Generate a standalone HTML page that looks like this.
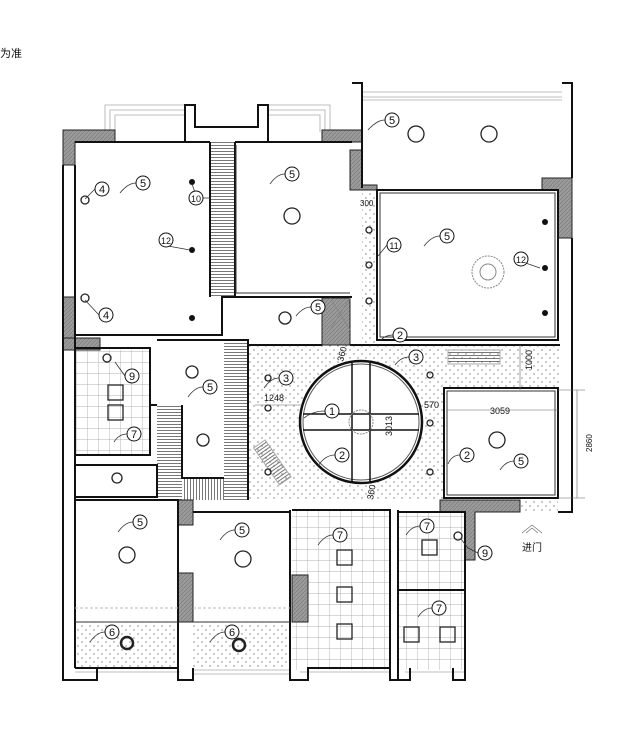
<!DOCTYPE html>
<html><head><meta charset="utf-8"><style>
html,body{margin:0;padding:0;background:#fff;width:641px;height:729px;overflow:hidden}
svg{display:block}
text{font-family:"Liberation Sans","Noto Sans CJK SC",sans-serif;fill:#111}
</style></head><body>
<svg width="641" height="729" viewBox="0 0 641 729" xmlns="http://www.w3.org/2000/svg">
<defs>
<pattern id="dots" width="8" height="8" patternUnits="userSpaceOnUse"><circle cx="2" cy="2" r="0.7" fill="#777"/><circle cx="6" cy="6" r="0.7" fill="#777"/></pattern>
<pattern id="grid" width="11" height="11" patternUnits="userSpaceOnUse"><path d="M11 0V11H0" fill="none" stroke="#999" stroke-width="0.7"/></pattern>
<pattern id="hatch" width="4" height="3" patternUnits="userSpaceOnUse"><path d="M0 1.5H4" stroke="#555" stroke-width="0.8"/></pattern>
<pattern id="vhatch" width="3" height="4" patternUnits="userSpaceOnUse"><path d="M1.5 0V4" stroke="#555" stroke-width="0.8"/></pattern>
<pattern id="wall" width="4" height="4" patternUnits="userSpaceOnUse"><rect width="4" height="4" fill="#9a9a9a"/><path d="M0 4L4 0" stroke="#777" stroke-width="0.6"/></pattern>
</defs>
<text x="0" y="57" font-size="11">为准</text>

<rect x="248" y="345" width="312" height="155" fill="url(#dots)"/>
<rect x="362" y="188" width="15" height="157" fill="url(#dots)"/>
<rect x="75" y="350" width="75" height="105" fill="url(#grid)"/>
<rect x="292" y="510" width="98" height="160" fill="url(#grid)"/>
<rect x="398" y="512" width="67" height="158" fill="url(#grid)"/>
<rect x="75" y="622" width="105" height="45" fill="url(#dots)"/>
<rect x="193" y="622" width="97" height="45" fill="url(#dots)"/>
<rect x="210" y="142" width="25" height="155" fill="url(#hatch)"/>
<rect x="224" y="342" width="24" height="158" fill="url(#hatch)"/>
<rect x="157" y="405" width="25" height="95" fill="url(#hatch)"/>
<rect x="182" y="478" width="42" height="22" fill="url(#vhatch)"/>
<rect x="520" y="500" width="38" height="12" fill="url(#dots)"/>

<g fill="none" stroke="#aaa" stroke-width="0.8">
<path d="M105 132V105H185M110 132V110H185M115 132V115H185"/>
<path d="M268 105H330V132M268 110H325V132M268 115H320V132"/>
<path d="M362 92H562M362 97H562M362 100H562"/>
<path d="M193 670H290M193 674H290M300 672H390M405 672H465M75 672H180"/>
</g>

<g fill="url(#wall)" stroke="#222" stroke-width="1">
<path d="M63 130H115V142H75V165H63Z"/>
<path d="M63 297H75V345H63Z"/>
<path d="M322 130H362V142H322Z"/>
<path d="M350 150H362V185H377V190H350Z"/>
<path d="M542 178H572V238H558V190H542Z"/>
<path d="M63 338H100V350H63Z"/>
<path d="M440 500H520V512H475V560H465V512H440Z"/>
<path d="M178 500H193V525H178Z"/>
<path d="M178 573H193V622H178Z"/>
<path d="M292 575H308V622H292Z"/>
<path d="M322 298H350V345H322Z"/>
</g>

<rect x="444" y="388" width="114" height="110" fill="#fff"/>
<g fill="none" stroke="#111" stroke-width="2">
<path d="M63 165V680H97V668"/>
<path d="M75 165V668"/>
<path d="M75 142H210M235 142H352"/>
<path d="M185 142V105H195V127H258V105H268V142"/>
<path d="M352 83H362V188M562 83H572V178"/>
<path d="M377 190H558V340H377Z"/>
<path d="M572 238V512H558"/>
<path d="M444 388H558V498H444Z"/>
<path d="M75 335H222V297H352"/>
<path d="M235 142V297M210 142V297"/>
<path d="M75 348H150V455H75"/>
<path d="M150 348V405H157M157 340H248V500"/>
<path d="M75 465H157V497H75"/>
<path d="M75 500H178V668H75"/>
<path d="M193 512H290V668"/>
<path d="M290 510V680H308V668H390V680H410V668"/>
<path d="M292 510H390V670M398 512H465V670"/>
<path d="M398 510V680H410M453 668V680H465V560"/>
<path d="M178 668V680H193V668"/>
<path d="M182 405V478H224"/>
<path d="M248 345H322M350 345H560"/>
<path d="M398 590H465"/>
</g>
<g fill="none" stroke="#333" stroke-width="1">
<path d="M380 193H555V337H380Z"/>
<path d="M447 391H555V495H447Z"/>
<path d="M236 145V293H350"/>
<path d="M330 298L350 330M350 298L330 330" stroke="#888"/>
<path d="M75 608H178M193 608H290" stroke="#bbb" stroke-dasharray="3 2"/>
<path d="M75 622H178M193 622H290"/>
</g>

<circle cx="361" cy="422" r="61" fill="#fff" stroke="#111" stroke-width="2.5"/>
<circle cx="361" cy="422" r="58" fill="none" stroke="#555" stroke-width="1"/>
<g stroke="#111" stroke-width="1.5">
<path d="M352 363V482M370 363V482M303 414H419M303 430H419"/>
</g>
<circle cx="361" cy="422" r="12" fill="none" stroke="#888" stroke-width="1" stroke-dasharray="2 1"/>
<circle cx="488" cy="272" r="16" fill="none" stroke="#888" stroke-width="1" stroke-dasharray="2 1"/>
<circle cx="488" cy="272" r="8" fill="none" stroke="#888"/>
<rect x="448" y="350" width="52" height="14" fill="url(#hatch)" stroke="#aaa"/>
<rect x="265" y="440" width="14" height="45" transform="rotate(-35 272 462)" fill="url(#hatch)" stroke="#aaa"/>

<g fill="none" stroke="#222" stroke-width="1.3">
<circle cx="292" cy="216" r="8"/><circle cx="416" cy="134" r="8"/><circle cx="489" cy="134" r="8"/>
<circle cx="285" cy="318" r="6"/><circle cx="192" cy="372" r="6"/><circle cx="203" cy="440" r="6"/>
<circle cx="117" cy="478" r="5"/><circle cx="127" cy="555" r="8"/><circle cx="243" cy="559" r="8"/>
<circle cx="497" cy="440" r="8"/><circle cx="85" cy="200" r="4"/><circle cx="85" cy="298" r="4"/>
<circle cx="369" cy="230" r="3"/><circle cx="369" cy="265" r="3"/><circle cx="369" cy="301" r="3"/>
<circle cx="268" cy="378" r="3"/><circle cx="268" cy="408" r="3"/><circle cx="268" cy="472" r="3"/>
<circle cx="430" cy="375" r="3"/><circle cx="430" cy="423" r="3"/><circle cx="430" cy="472" r="3"/>
<rect x="337" y="550" width="15" height="15"/><rect x="337" y="587" width="15" height="15"/><rect x="337" y="624" width="15" height="15"/>
<rect x="422" y="540" width="15" height="15"/><rect x="404" y="627" width="15" height="15"/><rect x="440" y="627" width="15" height="15"/>
<rect x="108" y="385" width="15" height="15"/><rect x="108" y="405" width="15" height="15"/>
<circle cx="127" cy="643" r="6" stroke-width="2.5"/><circle cx="239" cy="645" r="6" stroke-width="2.5"/>
<circle cx="458" cy="536" r="4"/><circle cx="107" cy="358" r="4"/>
</g>
<g fill="#111">
<circle cx="192" cy="182" r="3"/><circle cx="192" cy="250" r="3"/><circle cx="192" cy="318" r="3"/>
<circle cx="545" cy="222" r="3"/><circle cx="545" cy="268" r="3"/><circle cx="545" cy="313" r="3"/>
</g>

<g fill="none" stroke="#333" stroke-width="0.8">
<path d="M136 183Q128 183 120 193M285 174Q277 174 270 184M385 120Q377 120 368 130M440 236Q432 236 424 246M211 198H197L192 184M159 240L168 246L190 250M95 189L85 199M99 315L85 300"/>
<path d="M311 307Q303 307 296 316M387 245L378 256M514 259L540 268M393 335Q385 335 380 341M125 376L115 362M203 387Q195 387 188 397M127 434Q119 434 114 442"/>
<path d="M279 378Q271 378 264 388M409 357Q401 357 395 365M325 411Q313 411 304 418M335 455Q325 455 318 466M460 455Q452 455 448 464M514 461Q506 461 500 470"/>
<path d="M133 522Q125 522 118 532M235 530Q227 530 220 540M333 535Q325 535 318 545M420 526Q412 526 406 535M478 553L468 548L461 539M432 608Q424 608 418 617M105 632Q97 632 90 642M225 632Q217 632 210 642"/>
</g>

<g font-size="11" text-anchor="middle">
<g fill="#fff" stroke="#111" stroke-width="1">
<circle cx="102" cy="189" r="7"/><circle cx="143" cy="183" r="7"/><circle cx="196" cy="198" r="7"/>
<circle cx="166" cy="240" r="7"/><circle cx="106" cy="315" r="7"/><circle cx="292" cy="174" r="7"/>
<circle cx="392" cy="120" r="7"/><circle cx="447" cy="236" r="7"/><circle cx="394" cy="245" r="7"/>
<circle cx="521" cy="259" r="7"/><circle cx="400" cy="335" r="7"/><circle cx="318" cy="307" r="7"/>
<circle cx="132" cy="376" r="7"/><circle cx="210" cy="387" r="7"/><circle cx="134" cy="434" r="7"/>
<circle cx="286" cy="378" r="7"/><circle cx="416" cy="357" r="7"/><circle cx="332" cy="411" r="7"/>
<circle cx="342" cy="455" r="7"/><circle cx="467" cy="455" r="7"/><circle cx="521" cy="461" r="7"/>
<circle cx="140" cy="522" r="7"/><circle cx="242" cy="530" r="7"/><circle cx="340" cy="535" r="7"/>
<circle cx="427" cy="526" r="7"/><circle cx="485" cy="553" r="7"/><circle cx="439" cy="608" r="7"/>
<circle cx="112" cy="632" r="7"/><circle cx="232" cy="632" r="7"/>
</g>
<text x="102" y="193">4</text><text x="143" y="187">5</text><text x="196" y="202" font-size="9">10</text>
<text x="166" y="244" font-size="9">12</text><text x="106" y="319">4</text><text x="292" y="178">5</text>
<text x="392" y="124">5</text><text x="447" y="240">5</text><text x="394" y="249" font-size="9">11</text>
<text x="521" y="263" font-size="9">12</text><text x="400" y="339">2</text><text x="318" y="311">5</text>
<text x="132" y="380">9</text><text x="210" y="391">5</text><text x="134" y="438">7</text>
<text x="286" y="382">3</text><text x="416" y="361">3</text><text x="332" y="415">1</text>
<text x="342" y="459">2</text><text x="467" y="459">2</text><text x="521" y="465">5</text>
<text x="140" y="526">5</text><text x="242" y="534">5</text><text x="340" y="539">7</text>
<text x="427" y="530">7</text><text x="485" y="557">9</text><text x="439" y="612">7</text>
<text x="112" y="636">6</text><text x="232" y="636">6</text>
</g>
<g font-size="9" fill="#111">
<text x="490" y="414">3059</text>
<text x="264" y="401">1248</text>
<text x="424" y="408">570</text>
<text x="360" y="206" font-size="8">300</text>
<text x="592" y="452" transform="rotate(-90 592 452)" font-size="8">2860</text>
<text x="532" y="370" transform="rotate(-90 532 370)">1000</text>
<text x="392" y="436" transform="rotate(-90 392 436)">3013</text>
<text x="343" y="362" transform="rotate(-75 343 362)">360</text>
<text x="373" y="500" transform="rotate(-80 373 500)">360</text>
<text x="522" y="551" font-size="10">进门</text>
</g>
<g stroke="#666" stroke-width="0.6" fill="none">
<path d="M447 410H558M558 390H585M558 498H585M577 390V498M520 345V390M255 405H302"/>
<path d="M522 533L532 525L542 533M526 533L532 528L538 533"/>
</g>
</svg>
</body></html>
